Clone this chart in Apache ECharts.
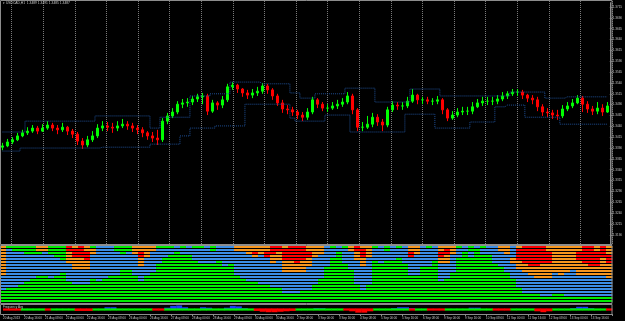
<!DOCTYPE html>
<html><head><meta charset="utf-8">
<script src="https://cdn.jsdelivr.net/npm/echarts@6/dist/echarts.min.js"></script>
<style>html,body{margin:0;padding:0;background:#000}#c{width:625px;height:321px}</style>
</head><body><div id="c"></div>
<script>
// ---- price pane data (USDCAD H1) ----
const firstOpen = 1.3392;
const closes = [1.3395,1.3404,1.3409,1.3418,1.3425,1.3429,1.3436,1.3429,1.3436,1.3443,
1.3436,1.3432,1.3438,1.3429,1.3422,1.3406,1.3397,1.3409,1.3418,1.3436,
1.3441,1.3438,1.3436,1.3441,1.3445,1.3441,1.3436,1.3432,1.3425,1.3418,
1.3413,1.3409,1.3452,1.3464,1.3473,1.3491,1.3494,1.3496,1.3503,1.3508,
1.3510,1.3475,1.3494,1.3489,1.3501,1.3531,1.3535,1.3526,1.3517,1.3512,
1.3517,1.3521,1.3533,1.3524,1.3510,1.3494,1.3480,1.3478,1.3473,1.3466,
1.3461,1.3473,1.3501,1.3491,1.3482,1.3482,1.3487,1.3491,1.3496,1.3510,
1.3478,1.3438,1.3438,1.3445,1.3461,1.3450,1.3443,1.3478,1.3489,1.3487,
1.3487,1.3498,1.3512,1.3501,1.3501,1.3498,1.3498,1.3501,1.3478,1.3459,
1.3466,1.3473,1.3475,1.3475,1.3485,1.3494,1.3498,1.3498,1.3498,1.3503,
1.3510,1.3515,1.3519,1.3519,1.3512,1.3505,1.3501,1.3485,1.3473,1.3471,
1.3466,1.3464,1.3480,1.3487,1.3494,1.3505,1.3491,1.3480,1.3475,1.3482,
1.3473,1.3487];
const highs = [1.3402,1.3411,1.3415,1.3425,1.3432,1.3438,1.3443,1.3441,1.3445,1.3452,
1.3448,1.3443,1.3448,1.3441,1.3434,1.3427,1.3413,1.3418,1.3429,1.3445,
1.3452,1.3450,1.3448,1.3452,1.3457,1.3452,1.3448,1.3443,1.3438,1.3429,
1.3427,1.3432,1.3459,1.3471,1.3482,1.3498,1.3503,1.3505,1.3510,1.3515,
1.3517,1.3515,1.3501,1.3498,1.3510,1.3538,1.3542,1.3538,1.3528,1.3524,
1.3526,1.3531,1.3540,1.3538,1.3528,1.3515,1.3501,1.3489,1.3485,1.3478,
1.3473,1.3482,1.3508,1.3505,1.3496,1.3491,1.3496,1.3501,1.3505,1.3519,
1.3515,1.3482,1.3450,1.3464,1.3471,1.3468,1.3457,1.3485,1.3498,1.3496,
1.3496,1.3508,1.3526,1.3515,1.3508,1.3508,1.3505,1.3510,1.3505,1.3482,
1.3475,1.3482,1.3485,1.3485,1.3496,1.3503,1.3508,1.3508,1.3508,1.3512,
1.3519,1.3521,1.3526,1.3526,1.3524,1.3515,1.3512,1.3508,1.3491,1.3482,
1.3478,1.3478,1.3489,1.3496,1.3503,1.3512,1.3510,1.3498,1.3487,1.3496,
1.3491,1.3496];
const lows = [1.3385,1.3392,1.3399,1.3406,1.3415,1.3420,1.3425,1.3422,1.3427,1.3432,
1.3429,1.3422,1.3427,1.3420,1.3413,1.3397,1.3388,1.3392,1.3404,1.3413,
1.3429,1.3429,1.3425,1.3429,1.3436,1.3432,1.3427,1.3422,1.3415,1.3409,
1.3404,1.3397,1.3404,1.3445,1.3459,1.3468,1.3482,1.3485,1.3489,1.3496,
1.3491,1.3466,1.3471,1.3478,1.3482,1.3496,1.3524,1.3517,1.3508,1.3503,
1.3505,1.3510,1.3515,1.3515,1.3501,1.3487,1.3471,1.3468,1.3464,1.3457,
1.3452,1.3455,1.3468,1.3482,1.3475,1.3473,1.3478,1.3480,1.3485,1.3491,
1.3468,1.3429,1.3429,1.3434,1.3438,1.3441,1.3429,1.3438,1.3473,1.3478,
1.3478,1.3482,1.3494,1.3491,1.3491,1.3491,1.3489,1.3491,1.3468,1.3452,
1.3455,1.3461,1.3466,1.3466,1.3468,1.3482,1.3487,1.3489,1.3489,1.3491,
1.3498,1.3503,1.3510,1.3510,1.3503,1.3496,1.3491,1.3475,1.3464,1.3461,
1.3457,1.3455,1.3459,1.3475,1.3482,1.3491,1.3473,1.3471,1.3466,1.3468,
1.3464,1.3471];
const upperBand = [1.3427,1.3427,1.3427,1.3427,1.3427,
1.3452,1.3452,1.3452,1.3452,1.3452,1.3452,1.3452,1.3452,1.3452,1.3452,1.3452,1.3452,1.3452,1.3452,
1.3464,1.3464,1.3464,1.3464,1.3464,1.3464,1.3464,1.3464,1.3464,1.3464,1.3464,
1.3436,1.3436,
1.3461,1.3461,1.3461,1.3461,1.3461,1.3461,
1.3510,1.3510,1.3510,1.3510,
1.3515,1.3515,1.3515,1.3515,
1.3542,1.3542,1.3542,1.3542,1.3542,1.3542,
1.3538,1.3538,1.3538,1.3538,1.3538,1.3538,
1.3517,1.3517,
1.3505,1.3505,1.3505,
1.3515,1.3515,1.3515,1.3515,1.3515,1.3515,
1.3528,1.3528,1.3528,1.3528,1.3528,1.3528,
1.3496,1.3496,1.3496,1.3496,1.3496,1.3496,1.3496,
1.3526,1.3526,1.3526,1.3526,1.3526,1.3526,
1.3510,1.3510,1.3510,1.3510,1.3510,1.3510,1.3510,1.3510,1.3510,1.3510,1.3510,1.3510,1.3510,1.3510,
1.3519,1.3519,1.3519,1.3519,1.3519,1.3519,1.3519,
1.3505,1.3505,1.3505,1.3505,
1.3508,1.3508,1.3508,1.3508,1.3508,1.3508,1.3508,1.3508,1.3508];
const lowerBand = [1.3383,1.3383,1.3383,1.3383,
1.3390,1.3390,1.3390,1.3390,1.3390,1.3390,1.3390,1.3390,1.3390,1.3390,1.3390,1.3390,1.3390,1.3390,1.3390,1.3390,
1.3392,1.3392,1.3392,1.3392,1.3392,1.3392,1.3392,1.3392,1.3392,1.3392,
1.3399,1.3399,1.3399,1.3399,1.3399,1.3399,
1.3418,1.3418,
1.3436,1.3436,1.3436,1.3436,1.3436,
1.3441,1.3441,1.3441,1.3441,1.3441,1.3441,
1.3491,1.3491,1.3491,1.3491,1.3491,1.3491,1.3491,1.3491,1.3491,
1.3459,
1.3452,1.3452,1.3452,1.3452,1.3452,1.3452,
1.3466,1.3466,1.3466,1.3466,1.3466,
1.3427,1.3427,1.3427,1.3427,1.3427,1.3427,1.3427,1.3427,1.3427,1.3427,1.3427,
1.3468,1.3468,1.3468,1.3468,1.3468,1.3468,
1.3436,1.3436,1.3436,1.3436,1.3436,1.3436,1.3436,
1.3450,1.3450,1.3450,1.3450,1.3450,
1.3485,1.3485,
1.3489,1.3489,1.3489,1.3489,
1.3461,1.3461,1.3461,1.3461,1.3461,1.3461,1.3461,
1.3445,1.3445,1.3445,1.3445,1.3445,1.3445,1.3445,1.3445,1.3445,1.3445];
const priceAxisMin = 1.3165, priceAxisMax = 1.3725, priceStep = 0.0025;

// ---- heat pane (rows top->bottom, run-length: G green, B blue, O orange, R red) ----
const heatRows = 19;
const heatColumns = ["O10B5G4","G1B13G5","G2B12G5","G2B11G6","G3B9G7","G3B8G8","O2G1B7G9","O2B8G9","G3B8G8","G4B6G9",
"G5B4G10","R2O4B6G7","O1R3O4B5G6","R4O4B5G6","O2R3O3B5G6","G1O2B8G8","B12G7","B11G8","B10G9","G2B8G9",
"G3B5G11","G2B6G11","O3B7G9","O2R2O3B5G7","O4B6G9","O2B7G10","G1B5G13","G1B3G15","G1B2G16","B2G17",
"G1B2G16","B3G16","G1B4G14","G1B5G13","B6G13","G2B4G13","B5G14","B7G12","B6G13","O2B8G9",
"O2B9G8","O3B9G7","O2R1O1B8G7","O3B10G6","O2R2B9G6","R3O3B8G5","R2O3B9G5","O1R4O4B7G3","R5O4B7G3","R6O3B7G3",
"R5O4B6G4","O2R2O3B8G4","O4B9G6","O3B8G8","B7G12","G1B3G15","B2G17","G1B5G13","O2B6G11","R2O3B8G6",
"O1R3O3B8G4","O4B9G6","G1B4G14","B6G13","G2B3G14","B5G14","G1B3G15","B6G13","O2R2B6G9","O3B7G9",
"B7G12","G1B6G12","B5G14","O2R2O2B6G7","O1R2O3B5G8","O3B6G10","G1B3G15","B2G17","G2B2G15","B1G18",
"G1B2G16","B3G16","B6G13","O2B5G12","O3B6G10","B4O2B5G8","O1R4O3B6G5","R6O3B7G3","R7O3B6G3","R7O4B5G3",
"R6O5B6G2","O2R4O5B6G2","O9B7G3","O10B6G3","O9B8G2","O8B9G2","O2R3O5B7G2","R6O4B7G2","R7O3B7G2","O2R5O3B7G2",
"R4O6B7G2","O3R3O5B6G2"];

// ---- bottom signal pane ----
const signalLine = "RRRGGGGRGGGGRRRGGGGGGGGGGRRGGGGGGGGGGGGGGGRRRRRRRGGGGGGGGRRRRRGGGGGGRGGRRRGGGGGGGGRRRGGGGRRRGGGGGGGGGR";
const blueHist = [[17,0.5],[18,0.5],[27,0.4],[28,0.8],[29,0.9],[30,0.5],[33,0.5],[34,0.4],[37,0.4],[38,0.8],[39,0.7],[40,0.3],
[52,0.3],[53,0.3],[65,0.3],[66,0.5],[67,0.5],[68,0.3],[78,0.4],[79,0.4],[95,0.3],[96,0.6],[97,0.6],[98,0.3]];
const redHist = [[12,-0.3],[13,-0.3],[14,-0.3],[42,-0.3],[43,-0.5],[44,-0.6],[45,-0.6],[46,-0.5],[47,-0.4],[48,-0.3],
[58,-0.4],[59,-0.7],[60,-0.7],[61,-0.4],[89,-0.4],[90,-0.6],[91,-0.4]];

// ---- time axis labels ----
const timeLabels = ["20 Aug 2013","20 Aug 16:00","21 Aug 08:00","22 Aug 00:00","22 Aug 16:00","23 Aug 08:00","26 Aug 00:00","26 Aug 16:00",
"27 Aug 08:00","28 Aug 00:00","28 Aug 16:00","29 Aug 08:00","30 Aug 00:00","30 Aug 16:00","2 Sep 08:00","3 Sep 00:00","3 Sep 16:00",
"4 Sep 08:00","5 Sep 00:00","5 Sep 16:00","6 Sep 08:00","9 Sep 00:00","9 Sep 16:00","10 Sep 08:00","11 Sep 00:00","11 Sep 16:00",
"12 Sep 08:00","13 Sep 00:00","13 Sep 16:00",""];
const titleText = "\u25BE USDCAD,H1  1.3489 1.3491 1.3485 1.3487";

// ---- build ----
const colors = {G:'#00ee00',B:'#3b8ee6',O:'#f7961e',R:'#ff0000'};
const candleData = closes.map((c,i)=>[i===0?firstOpen:closes[i-1], c, lows[i], highs[i]]);
const barCats = closes.map((_,i)=>i);
const heatCats = heatColumns.map((_,i)=>i);
const rowCats = Array.from({length:heatRows},(_,i)=>i);
const heatData = [];
heatColumns.forEach((s,ci)=>{
  const out=[]; const re=/([GBOR])(\d+)/g; let m;
  while((m=re.exec(s))){for(let k=0;k<+m[2];k++)out.push(m[1]);}
  while(out.length<heatRows)out.push('G');
  out.slice(0,heatRows).forEach((code,ri)=>heatData.push([ci,ri,code]));
});
const sigData = heatColumns.map((_,i)=>[i,0,signalLine[i]||'G']);
const gray = '#8c8c8c', txt = '#c8c8c8';

const chart = echarts.init(document.getElementById('c'),null,{renderer:'canvas'});
chart.setOption({
  backgroundColor:'#000',
  animation:false,
  grid:[
    {left:0,width:612,top:2.65,height:243.05},
    {left:0,width:612,top:246,height:57},
    {left:0,width:612,top:305,height:9},
    {left:11.7,width:600.4,top:1,height:243}
  ],
  xAxis:[
    {gridIndex:0,type:'category',data:barCats,boundaryGap:true,show:false},
    {gridIndex:1,type:'category',data:heatCats,boundaryGap:true,show:false},
    {gridIndex:2,type:'category',data:heatCats,boundaryGap:true,show:false},
    {gridIndex:3,type:'value',min:0,max:19,interval:1,axisLine:{show:false},axisTick:{show:false},axisLabel:{show:false},
      splitLine:{show:true,lineStyle:{color:'#7a7a7a',width:1,type:[1,1]}}},
    {gridIndex:2,type:'category',data:timeLabels,boundaryGap:false,position:'bottom',
      axisLine:{show:false},axisTick:{show:true,length:2,lineStyle:{color:gray}},
      axisLabel:{interval:0,fontSize:3,color:txt,align:'left',margin:3,fontFamily:'Arial'}}
  ],
  yAxis:[
    {gridIndex:0,type:'value',position:'right',min:priceAxisMin,max:priceAxisMax,interval:priceStep,
      axisLine:{show:true,lineStyle:{color:gray}},axisTick:{show:true,length:2,lineStyle:{color:gray}},
      axisLabel:{show:true,fontSize:3,color:txt,margin:3,fontFamily:'Arial',showMinLabel:false,showMaxLabel:false,formatter:v=>v.toFixed(4)},
      splitLine:{show:false}},
    {gridIndex:1,type:'category',data:rowCats,inverse:true,show:false},
    {gridIndex:2,type:'value',min:-1,max:1,show:false},
    {gridIndex:3,type:'value',min:0,max:1,show:false}
  ],
  graphic:[
    {type:'rect',shape:{x:0.5,y:0.5,width:611.5,height:244},style:{fill:null,stroke:gray,lineWidth:1},z:100,silent:true},
    {type:'rect',shape:{x:0.5,y:245.5,width:611.5,height:58},style:{fill:null,stroke:gray,lineWidth:1},z:100,silent:true},
    {type:'rect',shape:{x:0.5,y:304.5,width:611.5,height:10},style:{fill:null,stroke:gray,lineWidth:1},z:100,silent:true},
    {type:'text',left:3,top:1.5,style:{text:titleText,fill:txt,font:'3.3px Arial'},z:100},
    {type:'text',left:3,top:305.5,style:{text:'Frequency Avg',fill:txt,font:'3px Arial'},z:100}
  ],
  series:[
    {type:'candlestick',xAxisIndex:0,yAxisIndex:0,data:candleData,barWidth:2,
      itemStyle:{color:'#00ff00',color0:'#ff0000',borderColor:'#00ff00',borderColor0:'#ff0000',borderWidth:1}},
    {type:'line',xAxisIndex:0,yAxisIndex:0,data:upperBand,step:'middle',symbol:'none',lineStyle:{color:'#1f4f95',width:1,type:'dotted'}},
    {type:'line',xAxisIndex:0,yAxisIndex:0,data:lowerBand,step:'middle',symbol:'none',lineStyle:{color:'#1f4f95',width:1,type:'dotted'}},
    {type:'custom',xAxisIndex:1,yAxisIndex:1,data:heatData,
      renderItem:(p,api)=>{const c=api.coord([api.value(0),api.value(1)]);const s=api.size([1,1]);
        return {type:'rect',shape:{x:c[0]-s[0]/2,y:c[1]-s[1]/2,width:s[0]+0.4,height:s[1]-1},style:{fill:colors[api.value(2)]}};}},
    {type:'custom',xAxisIndex:2,yAxisIndex:2,data:sigData,
      renderItem:(p,api)=>{const c=api.coord([api.value(0),0]);const s=api.size([1,0.5]);
        return {type:'rect',shape:{x:c[0]-s[0]/2,y:c[1]-s[1]/2,width:s[0]+0.4,height:s[1]},style:{fill:colors[api.value(2)]}};}},
    {type:'bar',xAxisIndex:2,yAxisIndex:2,data:blueHist,barWidth:6,itemStyle:{color:'#1a3cff'},z:1},
    {type:'bar',xAxisIndex:2,yAxisIndex:2,data:redHist,barWidth:6,barGap:'-100%',itemStyle:{color:'#ff0000'},z:1}
  ]
});
</script></body></html>
